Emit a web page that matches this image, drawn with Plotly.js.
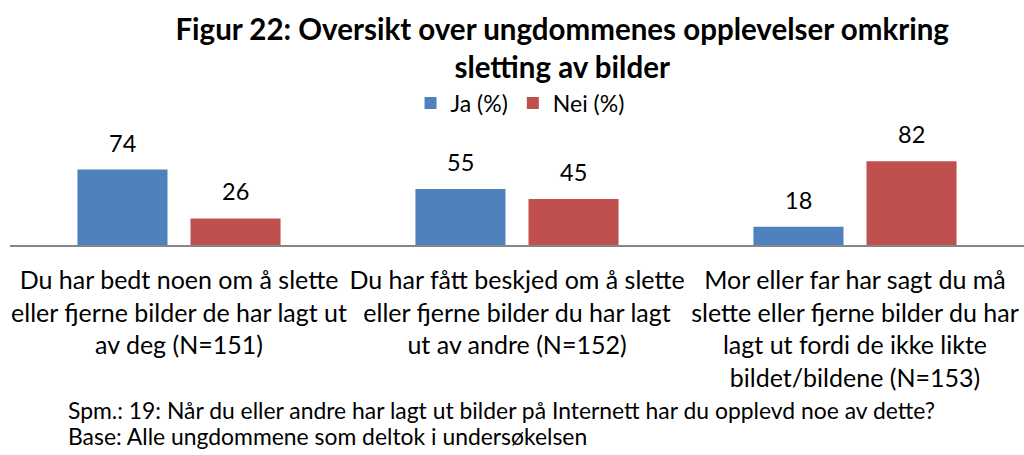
<!DOCTYPE html>
<html>
<head>
<meta charset="utf-8">
<script src="https://cdn.plot.ly/plotly-3.0.1.min.js"></script>
<style>html,body{margin:0;padding:0;background:#fff;}#chart{width:1024px;height:455px;}</style>
</head>
<body>
<div id="chart"></div>
<script>
const categories = [
  "Du har bedt noen om å slette<br>eller fjerne bilder de har lagt ut<br>av deg (N=151)",
  "Du har fått beskjed om å slette<br>eller fjerne bilder du har lagt<br>ut av andre (N=152)",
  "Mor eller far har sagt du må<br>slette eller fjerne bilder du har<br>lagt ut fordi de ikke likte<br>bildet/bildene (N=153)"
];
const seriesNames = ["Ja (%)", "Nei (%)"];
const jaValues = [74, 55, 18];
const neiValues = [26, 45, 82];
const seriesColors = ["#4F81BD", "#C0504D"];
const titleText = "Figur 22: Oversikt over ungdommenes opplevelser omkring<br>sletting av bilder";
const footnotes = [
  "Spm.: 19: Når du eller andre har lagt ut bilder på Internett har du opplevd noe av dette?",
  "Base: Alle ungdommene som deltok i undersøkelsen"
];

const FONT = "Lato, 'Open Sans', sans-serif";
const allValues = [jaValues, neiValues];

const traces = allValues.map((vals, i) => ({
  type: "bar",
  name: seriesNames[i],
  x: categories,
  y: vals,
  marker: {color: seriesColors[i]},
  hoverinfo: "x+y"
}));

const annotations = [];
allValues.forEach((vals, i) => {
  vals.forEach((v, j) => {
    annotations.push({
      x: categories[j], y: v, xref: "x", yref: "y",
      text: String(v), showarrow: false,
      xshift: (i === 0 ? -1 : 1) * 56.5,
      yanchor: "middle", yshift: 27,
      font: {family: FONT, size: 23.5, color: "#000"}
    });
  });
});
footnotes.forEach((t, k) => {
  annotations.push({
    xref: "paper", yref: "paper", x: 0.055, y: -1.62 - k * 0.255,
    xanchor: "left", yanchor: "middle", showarrow: false, text: t,
    font: {family: FONT, size: 22.9, color: "#000"}
  });
});

const layout = {
  width: 1024, height: 455,
  margin: {l: 10, r: 0, t: 142.7, b: 210, pad: 0},
  paper_bgcolor: "#fff", plot_bgcolor: "#fff",
  font: {family: FONT, color: "#000"},
  title: {
    text: titleText,
    font: {family: FONT, size: 29.5, color: "#000", weight: "bold"},
    xref: "container", x: 0.549, xanchor: "center",
    yref: "container", y: 1 - 40/455, yanchor: "top"
  },
  showlegend: true,
  legend: {
    orientation: "h", xref: "paper", x: 0.503, xanchor: "center",
    yref: "container", y: 1 - 103/455, yanchor: "middle",
    font: {family: FONT, size: 23, color: "#000"},
    itemclick: false, itemdoubleclick: false
  },
  barmode: "group", bargap: 0.331, bargroupgap: 0.2035,
  xaxis: {
    showline: true, linecolor: "#868686", linewidth: 2,
    showgrid: false, ticks: "", ticklabelstandoff: 12, tickangle: 0,
    tickfont: {family: FONT, size: 25, color: "#000"},
    fixedrange: true
  },
  yaxis: {
    range: [0, 100], visible: false, showgrid: false, zeroline: false,
    fixedrange: true
  },
  annotations: annotations
};

Plotly.newPlot("chart", traces, layout, {displayModeBar: false, staticPlot: true});
</script>
</body>
</html>
